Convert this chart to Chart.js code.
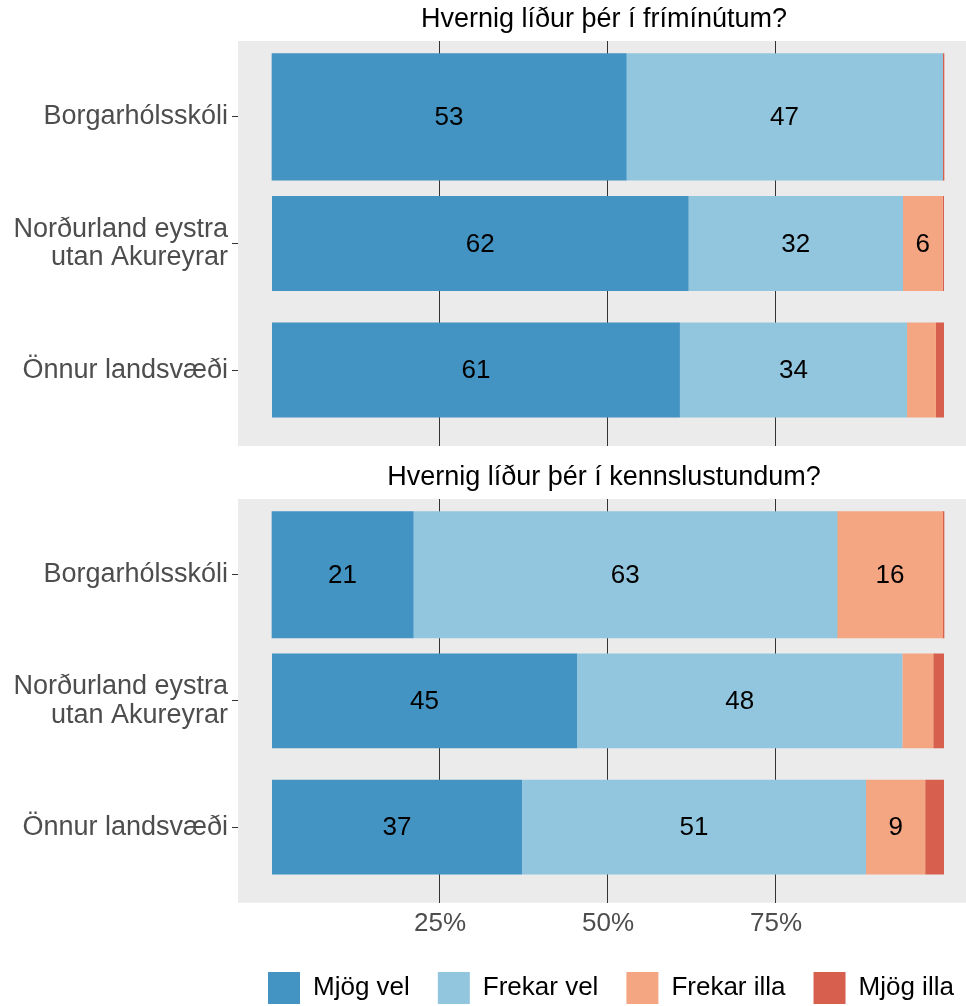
<!DOCTYPE html>
<html lang="is">

<head>
    <meta charset="UTF-8">
    <title>Hvernig líður þér</title>
    <script src="https://cdn.jsdelivr.net/npm/chart.js"></script>
    <style>
        html, body { margin: 0; padding: 0; background: #fff; overflow: hidden; }
        .panel { position: absolute; left: 0; }
        #efri { top: 0; }
        #nedri { top: 452px; }
    </style>
</head>

<body>
    <div class="panel" id="efri"><canvas id="friminutur" width="966" height="452"></canvas></div>
    <div class="panel" id="nedri"><canvas id="kennslustundir" width="966" height="562"></canvas></div>

<script>
    // svæði (y-ás) og svarmöguleikar
    const svaedi = ['Borgarhólsskóli', ['Norðurland eystra', 'utan Akureyrar'], 'Önnur landsvæði'];
    const svor = ['Mjög vel', 'Frekar vel', 'Frekar illa', 'Mjög illa'];
    const xTicks = [25, 50, 75];

    // Hvernig líður þér í frímínútum? (%)
    const friMjogVel = [52.7, 62.0, 60.7];
    const friFrekarVel = [47.1, 31.9, 33.8];
    const friFrekarIlla = [0, 5.9, 4.3];
    const friMjogIlla = [0.2, 0.2, 1.2];

    // Hvernig líður þér í kennslustundum? (%)
    const kenMjogVel = [21.0, 45.4, 37.2];
    const kenFrekarVel = [63.1, 48.4, 51.2];
    const kenFrekarIlla = [15.7, 4.6, 8.8];
    const kenMjogIlla = [0.2, 1.6, 2.8];

    const litir = ['#4393c3', '#92c5de', '#f4a582', '#d6604d'];
    const letur = 'Liberation Sans, Arial, sans-serif';

    // skólinn er með breiðari súlu en hin svæðin, svo hann fær sín eigin gagnasett
    function gagnasett(raðir) {
        const sett = [];
        raðir.forEach((rod, i) => {
            sett.push({
                label: svor[i],
                data: [{ x: rod[0], y: 1 }],
                backgroundColor: litir[i],
                barPercentage: 1,
                categoryPercentage: 1
            });
        });
        raðir.forEach((rod, i) => {
            sett.push({
                label: svor[i],
                data: [{ x: rod[1], y: 2 }, { x: rod[2], y: 3 }],
                backgroundColor: litir[i],
                barPercentage: 0.75,
                categoryPercentage: 1
            });
        });
        return sett;
    }

    const bakgrunnur = {
        id: 'bakgrunnur',
        beforeDraw(chart) {
            const a = chart.chartArea;
            const ctx = chart.ctx;
            ctx.save();
            ctx.fillStyle = '#ebebeb';
            ctx.fillRect(a.left, a.top, a.right - a.left, a.bottom - a.top);
            // fyrirsögn fyrir miðju grafsvæðinu
            ctx.fillStyle = '#000';
            ctx.font = '27px ' + letur;
            ctx.textAlign = 'center';
            ctx.textBaseline = 'middle';
            ctx.fillText(chart.options.plugins.fyrirsogn, (a.left + a.right) / 2 + 2, a.top - 21);
            ctx.restore();
        },
        afterLayout(chart) {
            // skýringar byrja undir grafsvæðinu eins og í fyrirmyndinni
            if (chart.legend && chart.legend.options.display) {
                chart.legend.left = 240;
                chart.legend.right = 1020;
            }
        }
    };

    const gildi = {
        id: 'gildi',
        afterDatasetsDraw(chart) {
            const ctx = chart.ctx;
            ctx.save();
            ctx.fillStyle = '#000';
            ctx.font = '26px ' + letur;
            ctx.textAlign = 'center';
            ctx.textBaseline = 'middle';
            chart.data.datasets.forEach((ds, d) => {
                chart.getDatasetMeta(d).data.forEach((bar, i) => {
                    const v = ds.data[i].x;
                    if (v < 5) return;
                    const p = bar.getCenterPoint();
                    ctx.fillText(Math.round(v), p.x, p.y + 1);
                });
            });
            ctx.restore();
        }
    };

    function teikna(id, titill, raðir, nedst) {
        return new Chart(document.getElementById(id), {
            type: 'bar',
            data: { datasets: gagnasett(raðir) },
            plugins: [bakgrunnur, gildi],
            options: {
                indexAxis: 'y',
                responsive: false,
                animation: false,
                devicePixelRatio: 1,
                layout: { padding: { left: 0, right: 0, top: nedst ? 47 : 41, bottom: nedst ? 0 : 6 } },
                scales: {
                    x: {
                        type: 'linear',
                        stacked: true,
                        min: -5.0595,
                        max: 103.274,
                        afterBuildTicks: s => { s.ticks = xTicks.map(v => ({ value: v })); },
                        grid: { color: '#333', lineWidth: 1, drawTicks: false },
                        border: { display: false },
                        ticks: {
                            display: nedst,
                            padding: 5,
                            color: '#4d4d4d',
                            font: { family: letur, size: 26 },
                            callback: v => v + '%'
                        }
                    },
                    y: {
                        type: 'linear',
                        stacked: true,
                        reverse: true,
                        offset: false,
                        min: 0.4,
                        max: 3.6,
                        afterBuildTicks: s => { s.ticks = [1, 2, 3].map(v => ({ value: v })); },
                        afterFit: s => { s.width = 238; s.paddingTop = 0; s.paddingBottom = 0; },
                        grid: { offset: false, drawOnChartArea: false, drawTicks: true, tickLength: 6, color: '#333' },
                        border: { display: false },
                        ticks: {
                            padding: 4,
                            color: '#4d4d4d',
                            font: { family: letur, size: 27, lineHeight: 1.05 },
                            callback: v => svaedi[v - 1]
                        }
                    }
                },
                plugins: {
                    fyrirsogn: titill,
                    legend: {
                        display: nedst,
                        position: 'bottom',
                        align: 'start',
                        labels: {
                            filter: item => item.datasetIndex < 4,
                            color: '#000',
                            font: { family: letur, size: 26 },
                            boxWidth: 32,
                            boxHeight: 32,
                            padding: 28
                        }
                    },
                    tooltip: { enabled: false }
                }
            }
        });
    }

    teikna('friminutur', 'Hvernig líður þér í frímínútum?',
        [friMjogVel, friFrekarVel, friFrekarIlla, friMjogIlla], false);
    teikna('kennslustundir', 'Hvernig líður þér í kennslustundum?',
        [kenMjogVel, kenFrekarVel, kenFrekarIlla, kenMjogIlla], true);
</script>
</body>

</html>
